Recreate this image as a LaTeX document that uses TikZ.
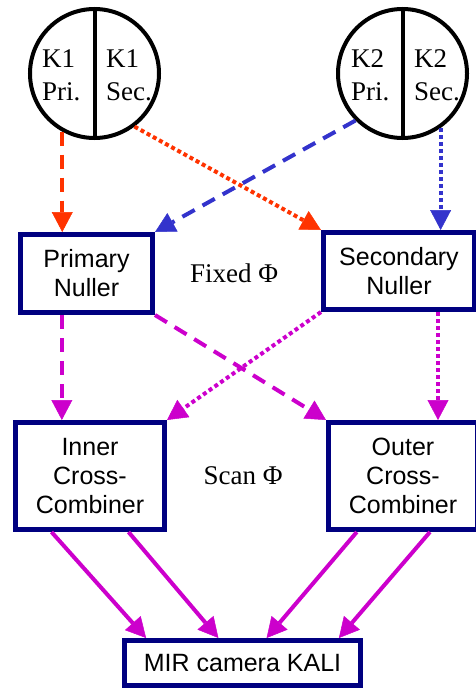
\documentclass[tikz,border=0pt]{standalone}
\usepackage{fontspec}
\setmainfont{Liberation Serif}
\setsansfont{Liberation Sans}
\usetikzlibrary{arrows.meta,calc}
\definecolor{navy}{RGB}{0,0,128}
\definecolor{kred}{RGB}{255,51,0}
\definecolor{kblue}{RGB}{51,51,204}
\definecolor{kmag}{RGB}{204,0,204}
\tikzset{
  tel/.style={circle, draw, line width=4pt, minimum size=129pt, inner sep=0pt},
  half/.style={anchor=west, inner sep=0pt, align=left, font=\fontsize{27}{33}\selectfont},
  unit/.style={draw=navy, line width=5pt, align=center, inner sep=0pt, font=\sffamily\fontsize{25}{29}\selectfont},
  phase/.style={font=\fontsize{27}{32}\selectfont},
  beam/.style={line width=4pt, -{Triangle[length=20pt,width=21pt,line width=0.5pt]}},
  dashline/.style={dash pattern=on 14pt off 9pt},
  dotline/.style={dash pattern=on 4pt off 3pt},
}
\begin{document}
\begin{tikzpicture}[x=1pt,y=-1pt]
\useasboundingbox (0,0) rectangle (476,690);

\node[tel] (k1) at (94.5,73.5) {};
\node[tel] (k2) at (402.5,73.5) {};
\draw[line width=4pt] (k1.north) -- (k1.south);
\draw[line width=4pt] (k2.north) -- (k2.south);
\node[half] (k1p) at (42,75) {K1\\Pri.};
\node[half] (k1s) at (106,75) {K1\\Sec.};
\node[half] (k2p) at (351,75) {K2\\Pri.};
\node[half] (k2s) at (414,75) {K2\\Sec.};

\node[unit, minimum width=132pt, minimum height=78pt] (pn) at (86.5,273.5) {Primary\\Nuller};
\node[unit, minimum width=151pt, minimum height=77pt] (sn) at (399,271) {Secondary\\Nuller};
\node[unit, minimum width=149pt, minimum height=107pt] (ic) at (90,476) {Inner\\Cross-\\Combiner};
\node[unit, minimum width=149pt, minimum height=107pt] (oc) at (403,476) {Outer\\Cross-\\Combiner};
\node[unit, minimum width=236pt, minimum height=45pt] (kali) at (242.5,663) {MIR camera KALI};

\node[phase] (fix) at (234,273) {Fixed Φ};
\node[phase] (scan) at (243,476) {Scan Φ};

\draw[beam, kred, dashline] (k1.-119) -- (k1.-119 |- pn.north);
\draw[beam, kred, dotline] (k1.-53) -- (sn.north west);
\draw[beam, kblue, dashline] (k2.-135) -- (pn.north east);
\draw[beam, kblue, dotline] (k2.-55) -- (k2.-55 |- sn.north);

\coordinate (pnout) at ($(pn.south west)!0.32!(pn.south east)$);
\coordinate (snout) at ($(sn.south west)!0.75!(sn.south east)$);
\draw[beam, kmag, dashline] (pnout) -- (pnout |- ic.north);
\draw[beam, kmag, dashline] (pn.south east) -- (oc.north west);
\draw[beam, kmag, dotline] (sn.south west) -- (ic.north east);
\draw[beam, kmag, dotline] (snout) -- (snout |- oc.north);

\foreach \n/\f/\g in {ic/0.25/0.1, ic/0.75/0.4, oc/0.2/0.6, oc/0.675/0.9}
  \draw[beam, kmag] ($(\n.south west)!\f!(\n.south east)$) -- ($(kali.north west)!\g!(kali.north east)$);
\end{tikzpicture}
\end{document}
